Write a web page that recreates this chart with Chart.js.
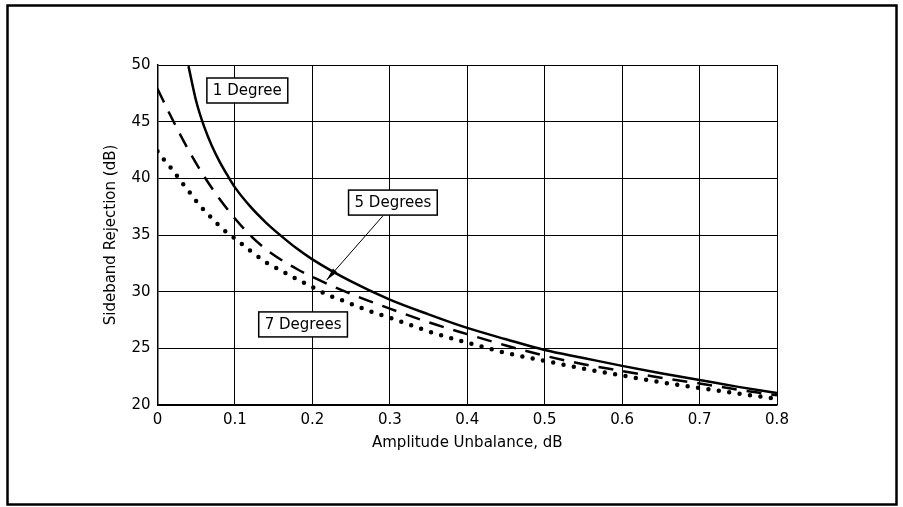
<!DOCTYPE html>
<html>
<head>
<meta charset="utf-8">
<script src="https://cdn.jsdelivr.net/npm/chart.js@4.4.1/dist/chart.umd.min.js"></script>
<style>
html, body { margin: 0; padding: 0; background: #fff; }
</style>
</head>
<body>
<canvas id="myChart" width="903" height="507"></canvas>
<script>
// 1 degree curve (solid)
var amp1 = [0.04, 0.05, 0.06, 0.07, 0.08, 0.09, 0.1, 0.12, 0.14, 0.16, 0.18, 0.2, 0.25, 0.3, 0.35, 0.4, 0.45, 0.5, 0.55, 0.6, 0.65, 0.7, 0.75, 0.8];
var sbr1 = [49.9, 46.8, 44.6, 42.9, 41.5, 40.3, 39.2, 37.5, 36.1, 34.9, 33.8, 32.85, 30.9, 29.3, 28.0, 26.8, 25.8, 24.85, 24.15, 23.45, 22.8, 22.2, 21.6, 21.05];

// 5 degrees curve (dashed)
var amp5 = [0, 0.02, 0.04, 0.06, 0.08, 0.1, 0.12, 0.14, 0.16, 0.18, 0.2, 0.25, 0.3, 0.35, 0.4, 0.45, 0.5, 0.55, 0.6, 0.65, 0.7, 0.75, 0.8];
var sbr5 = [47.9, 45.1, 42.5, 40.2, 38.2, 36.45, 34.95, 33.75, 32.8, 32.0, 31.3, 29.8, 28.5, 27.3, 26.25, 25.25, 24.35, 23.6, 23.0, 22.4, 21.9, 21.35, 20.85];

// 7 degrees curve (dotted)
var amp7 = [0, 0.01, 0.02, 0.03, 0.04, 0.05, 0.06, 0.07, 0.08, 0.09, 0.1, 0.12, 0.14, 0.16, 0.18, 0.2, 0.22, 0.24, 0.26, 0.28, 0.3, 0.35, 0.4, 0.45, 0.5, 0.55, 0.6, 0.65, 0.7, 0.75, 0.8];
var sbr7 = [42.4, 41.5, 40.7, 39.75, 38.9, 38.0, 37.2, 36.5, 35.8, 35.2, 34.7, 33.6, 32.6, 31.85, 31.1, 30.4, 29.7, 29.2, 28.65, 28.15, 27.7, 26.5, 25.5, 24.6, 23.9, 23.2, 22.6, 22.0, 21.5, 21.0, 20.55];

var xTicks = [0, 0.1, 0.2, 0.3, 0.4, 0.5, 0.6, 0.7, 0.8];
var yTicks = [20, 25, 30, 35, 40, 45, 50];

// label boxes, placed in data units
var notes = [
    { text: '1 Degree', x: 0.116, y: 47.75 },
    { text: '5 Degrees', x: 0.304, y: 37.86 },
    { text: '7 Degrees', x: 0.188, y: 27.11 }
];
var arrowFrom = [0.291, 36.68];
var arrowTo = [0.2185, 31.03];

function pts(xs, ys) {
    return xs.map(function (x, i) { return { x: x, y: ys[i] }; });
}

var FONT = { family: 'DejaVu Sans', size: 15 };

var extras = {
    id: 'extras',
    afterDatasetsDraw: function (chart) {
        var ctx = chart.ctx;
        var xs = chart.scales.x, ys = chart.scales.y;
        ctx.save();
        ctx.font = '15px "DejaVu Sans"';
        ctx.textBaseline = 'middle';
        ctx.textAlign = 'center';
        // arrow
        var x1 = xs.getPixelForValue(arrowFrom[0]), y1 = ys.getPixelForValue(arrowFrom[1]);
        var x2 = xs.getPixelForValue(arrowTo[0]), y2 = ys.getPixelForValue(arrowTo[1]);
        ctx.strokeStyle = '#000';
        ctx.lineWidth = 1;
        ctx.beginPath();
        ctx.moveTo(x1, y1);
        ctx.lineTo(x2, y2);
        ctx.stroke();
        var a = Math.atan2(y2 - y1, x2 - x1);
        ctx.fillStyle = '#000';
        ctx.beginPath();
        ctx.moveTo(x2, y2);
        ctx.lineTo(x2 - 13 * Math.cos(a - 0.22), y2 - 13 * Math.sin(a - 0.22));
        ctx.lineTo(x2 - 13 * Math.cos(a + 0.22), y2 - 13 * Math.sin(a + 0.22));
        ctx.closePath();
        ctx.fill();
        // boxes
        notes.forEach(function (n) {
            var cx = xs.getPixelForValue(n.x), cy = ys.getPixelForValue(n.y);
            var w = ctx.measureText(n.text).width + 12, h = 25;
            ctx.fillStyle = '#fff';
            ctx.fillRect(cx - w / 2, cy - h / 2, w, h);
            ctx.lineWidth = 1.5;
            ctx.strokeRect(cx - w / 2, cy - h / 2, w, h);
            ctx.fillStyle = '#000';
            ctx.fillText(n.text, cx, cy + 1);
        });
        // outer frame
        ctx.lineWidth = 2.5;
        ctx.strokeRect(7.5, 5.5, 889, 499);
        ctx.restore();
    }
};

var ctx = document.getElementById('myChart').getContext('2d');

var myChart = new Chart(ctx, {
    type: 'line',
    data: {
        datasets: [
            {
                label: '1 Degree',
                data: pts(amp1, sbr1),
                borderColor: '#000',
                borderWidth: 2.5
            },
            {
                label: '5 Degrees',
                data: pts(amp5, sbr5),
                borderColor: '#000',
                borderWidth: 2.5,
                borderDash: [15, 10]
            },
            {
                label: '7 Degrees',
                data: pts(amp7, sbr7),
                borderColor: '#000',
                borderWidth: 4.5,
                borderCapStyle: 'round',
                borderDash: [0, 10.5]
            }
        ]
    },
    options: {
        responsive: false,
        animation: false,
        clip: true,
        cubicInterpolationMode: 'monotone',
        elements: { point: { radius: 0 } },
        layout: { padding: { left: 95, right: 126, top: 65, bottom: 54 } },
        plugins: {
            legend: { display: false },
            tooltip: { enabled: false }
        },
        scales: {
            x: {
                type: 'linear',
                min: 0,
                max: 0.8,
                afterFit: function (s) { s.height = 48; },
                afterBuildTicks: function (s) { s.ticks = xTicks.map(function (v) { return { value: v }; }); },
                ticks: { color: '#000', font: FONT, padding: 6, maxRotation: 0 },
                grid: { color: '#000', lineWidth: 1, drawTicks: false },
                border: { color: '#000', width: 1.5 },
                title: { display: true, text: 'Amplitude Unbalance, dB', color: '#000', font: FONT, padding: { top: 0, bottom: 1 } }
            },
            y: {
                min: 20,
                max: 50,
                afterFit: function (s) { s.width = 62.5; },
                afterBuildTicks: function (s) { s.ticks = yTicks.map(function (v) { return { value: v }; }); },
                ticks: { color: '#000', font: FONT, padding: 7 },
                grid: { color: '#000', lineWidth: 1, drawTicks: false },
                border: { color: '#000', width: 1.5 },
                title: { display: true, text: 'Sideband Rejection (dB)', color: '#000', font: FONT, padding: { top: 7, bottom: 0 } }
            }
        }
    },
    plugins: [extras]
});
</script>
</body>
</html>
